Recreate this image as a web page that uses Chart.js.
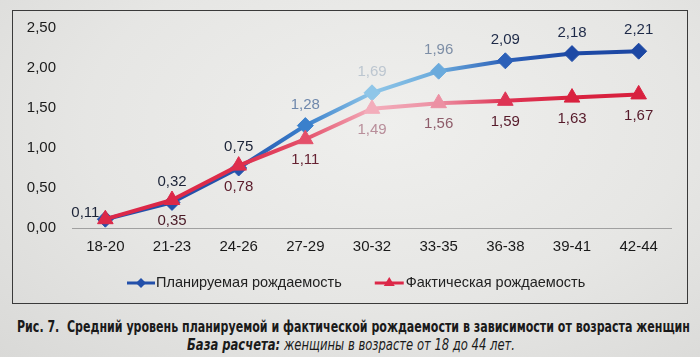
<!DOCTYPE html>
<html><head><meta charset="utf-8">
<script src="https://cdn.jsdelivr.net/npm/chart.js@4.4.0/dist/chart.umd.min.js"></script>
<style>
html,body{margin:0;padding:0;}
body{width:700px;height:357px;background:radial-gradient(ellipse at 55% 35%, #efefed 0%, #e6e6e4 55%, #d9d9d7 100%);position:relative;overflow:hidden;font-family:"Liberation Sans",Arial,sans-serif;}
#box{position:absolute;left:12px;top:10px;width:674px;height:292px;border:1px solid #3a3a3a;}
#c{display:block;}
.cap{position:absolute;white-space:nowrap;transform-origin:0 0;font-family:"DejaVu Sans Condensed","Liberation Sans Narrow",sans-serif;color:#1a1a1a;}
#cap1{left:17px;top:317px;font-weight:bold;font-size:16px;}
#cap2{left:187px;top:336px;font-style:italic;font-size:15px;}
</style></head>
<body>
<div id="box"><canvas id="c" width="674" height="292"></canvas></div>
<span class="cap" id="cap1">Рис. 7.&nbsp; Средний уровень планируемой и фактической рождаемости в зависимости от возраста женщин</span>
<span class="cap" id="cap2"><b>База расчета:</b> женщины в возрасте от 18 до 44 лет.</span>
<script>
const categories = ['18-20','21-23','24-26','27-29','30-32','33-35','36-38','39-41','42-44'];
const planned = [0.11,0.32,0.75,1.28,1.69,1.96,2.09,2.18,2.21];
const actual  = [0.11,0.35,0.78,1.11,1.49,1.56,1.59,1.63,1.67];
const yTicks = [0,0.5,1,1.5,2,2.5];
const seriesNames = ['Планируемая рождаемость','Фактическая рождаемость'];

// photo glare colours per category
const bluePts = ['#2350aa','#2350aa','#2553ad','#3a80cc','#8fc6e8','#6aaadc','#2c60b8','#1d49a5','#1c47a3'];
const redPts  = ['#dc2848','#dc2848','#de2e4c','#e4506a','#f3adbb','#ec90a3','#de3454','#d9223f','#d8203e'];
const blueLbl = ['#1c2438','#1c2438','#1c2438','#6f88ac','#bcc6d0','#7d8ea6','#1e2a48','#1e2a48','#1e2a48'];
const redLbl  = ['#4a1a26','#4a1a26','#5a1a2a','#662232','#b88e9a','#8e5c6a','#561a2a','#561a2a','#561a2a'];

const fmt = v => v.toFixed(2).replace('.', ',');
const FONT = '"Liberation Sans", Arial, sans-serif';

// fit caption lines to the printed widths
function fitCap(id, w){
  const el = document.getElementById(id);
  const cw = el.getBoundingClientRect().width;
  if (cw > 0) el.style.transform = 'scaleX(' + (w / cw) + ')';
}
fitCap('cap1', 673);
fitCap('cap2', 328);

function lineGrad(chart, cols){
  const a = chart.chartArea, x = chart.scales.x;
  if(!a || !x) return cols[0];
  const g = chart.ctx.createLinearGradient(a.left,0,a.right,0);
  cols.forEach((c,i)=>{
    let p = (x.getPixelForValue(i)-a.left)/(a.right-a.left);
    g.addColorStop(Math.min(1,Math.max(0,p)), c);
  });
  return g;
}

const labelPlugin = {
  id:'valueLabels',
  afterDatasetsDraw(chart){
    const ctx = chart.ctx;
    ctx.save();
    ctx.font = '15px ' + FONT;
    ctx.textAlign = 'center';
    ctx.textBaseline = 'middle';
    chart.getDatasetMeta(0).data.forEach((pt,i)=>{
      let x = pt.x, y = pt.y - 21;
      if(i===0){ x = pt.x - 20; y = pt.y - 6; }
      ctx.fillStyle = blueLbl[i];
      ctx.fillText(fmt(planned[i]), x, y);
    });
    chart.getDatasetMeta(1).data.forEach((pt,i)=>{
      if(i===0) return;
      ctx.fillStyle = redLbl[i];
      ctx.fillText(fmt(actual[i]), pt.x, pt.y + 21);
    });
    ctx.restore();
  }
};

const legendPlugin = {
  id:'customLegend',
  afterDraw(chart){
    const ctx = chart.ctx;
    ctx.save();
    const y = 272;
    ctx.font = '14.5px ' + FONT;
    ctx.textBaseline = 'middle';
    ctx.textAlign = 'left';
    let x0 = 114;
    ctx.strokeStyle = '#2350aa'; ctx.lineWidth = 3;
    ctx.beginPath(); ctx.moveTo(x0,y); ctx.lineTo(x0+28,y); ctx.stroke();
    ctx.fillStyle = '#2350aa';
    ctx.beginPath(); ctx.moveTo(x0+14,y-5); ctx.lineTo(x0+19,y); ctx.lineTo(x0+14,y+5); ctx.lineTo(x0+9,y); ctx.closePath(); ctx.fill();
    ctx.fillStyle = '#222';
    ctx.fillText(seriesNames[0], x0+29, y);
    const w1 = ctx.measureText(seriesNames[0]).width;
    let x1 = x0 + 29 + w1 + 33;
    ctx.strokeStyle = '#dc2848'; ctx.lineWidth = 3;
    ctx.beginPath(); ctx.moveTo(x1,y); ctx.lineTo(x1+29,y); ctx.stroke();
    ctx.fillStyle = '#dc2848';
    ctx.beginPath(); ctx.moveTo(x1+14.5,y-6); ctx.lineTo(x1+20,y+3); ctx.lineTo(x1+9,y+3); ctx.closePath(); ctx.fill();
    ctx.fillStyle = '#222';
    ctx.fillText(seriesNames[1], x1+31, y);
    ctx.restore();
  }
};

new Chart(document.getElementById('c'), {
  type:'line',
  data:{
    labels: categories,
    datasets:[
      {
        label: seriesNames[0], data: planned, order:1,
        borderColor: c => lineGrad(c.chart, bluePts),
        borderWidth: 4, tension:0,
        pointStyle:'rectRot', pointRadius:8, pointHoverRadius:8,
        pointBackgroundColor: bluePts, pointBorderColor: bluePts, pointBorderWidth:1
      },
      {
        label: seriesNames[1], data: actual, order:0,
        borderColor: c => lineGrad(c.chart, redPts),
        borderWidth: 4, tension:0,
        pointStyle:'triangle', pointRadius:9, pointHoverRadius:9,
        pointBackgroundColor: redPts, pointBorderColor: redPts, pointBorderWidth:1
      }
    ]
  },
  options:{
    responsive:false, animation:false,
    events:[],
    layout:{padding:{left:0,right:15,top:17,bottom:39}},
    plugins:{legend:{display:false}, tooltip:{enabled:false}},
    scales:{
      x:{
        offset:true,
        grid:{display:false, drawTicks:false},
        border:{display:false},
        ticks:{color:'#1a1a1a', font:{family:FONT,size:15}, padding:10, maxRotation:0, autoSkip:false},
        afterFit(s){ s.height = 36; }
      },
      y:{
        min:0, max:2.5,
        afterBuildTicks(s){ s.ticks = yTicks.map(v=>({value:v})); },
        grid:{drawTicks:true, tickLength:14, tickColor:'rgba(0,0,0,0)', lineWidth:1, color: c => c.tick && c.tick.value===0 ? '#a0a0a0' : 'rgba(0,0,0,0)'},
        border:{display:false},
        ticks:{color:'#1a1a1a', font:{family:FONT,size:15}, padding:2, callback: v => fmt(v)},
        afterFit(s){ s.width = 59; }
      }
    }
  },
  plugins:[labelPlugin, legendPlugin]
});
</script>
</body></html>
